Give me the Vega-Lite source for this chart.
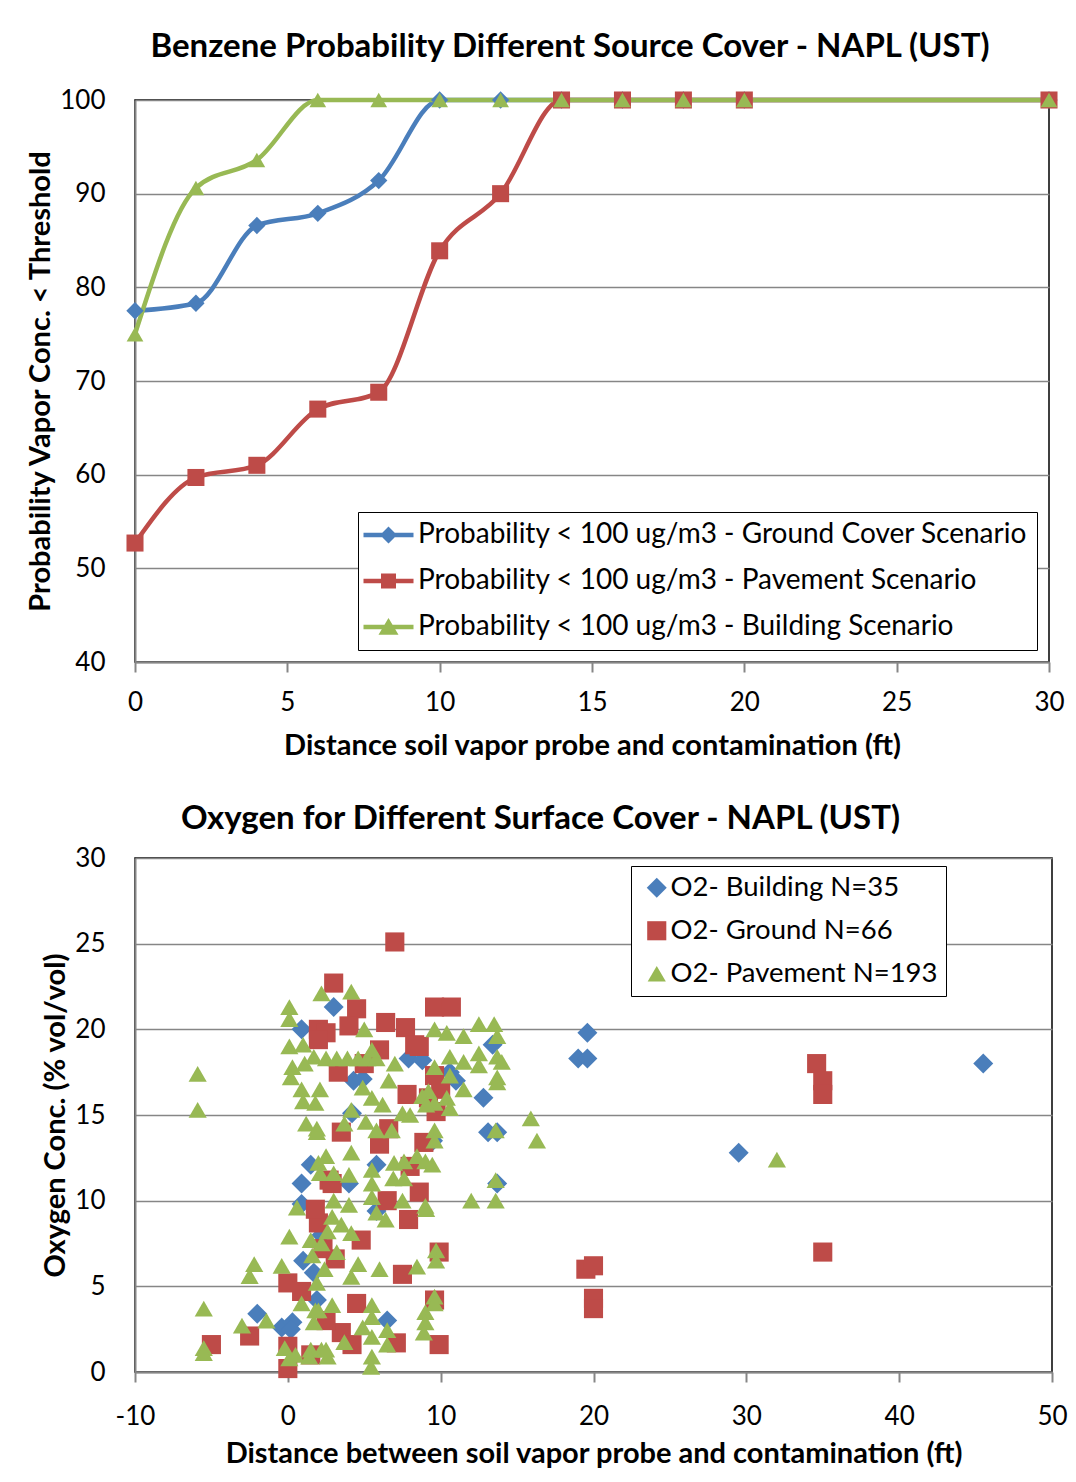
{
  "$schema": "https://vega.github.io/schema/vega-lite/v6.json",
  "background": "white",
  "padding": {"left": 26, "top": 30, "right": 8, "bottom": 10},
  "spacing": 41,
  "resolve": {"scale": {"color": "independent", "shape": "independent", "size": "independent"}, "legend": {"color": "independent", "shape": "independent"}},
  "config": {
    "font": "Lato",
    "view": {"stroke": "black", "strokeWidth": 1.5},
    "axis": {"labelFont": "Lato", "labelFontSize": 26, "labelColor": "black", "titleFont": "Lato", "titleFontSize": 29, "titleFontWeight": "bold", "titleColor": "black", "domainColor": "#868686", "domainWidth": 2, "tickColor": "#868686", "tickWidth": 2, "gridColor": "#868686", "gridWidth": 1.5},
    "axisY": {"ticks": false, "labelPadding": 30, "titlePadding": 4},
    "axisX": {"tickSize": 10, "labelPadding": 17, "titlePadding": 16, "grid": false, "labelFlush": false},
    "title": {"font": "Lato", "fontSize": 33, "fontWeight": "bold", "color": "black"},
    "legend": {"labelFont": "Lato", "labelColor": "black", "labelLimit": 800, "strokeColor": "black", "fillColor": "white", "symbolStrokeWidth": 0}
  },
  "datasets": {
    "prob": [
      {"x": 0, "p": 77.5, "s": "Probability < 100 ug/m3 - Ground Cover Scenario"},
      {"x": 2, "p": 78.3, "s": "Probability < 100 ug/m3 - Ground Cover Scenario"},
      {"x": 4, "p": 86.6, "s": "Probability < 100 ug/m3 - Ground Cover Scenario"},
      {"x": 6, "p": 87.9, "s": "Probability < 100 ug/m3 - Ground Cover Scenario"},
      {"x": 8, "p": 91.4, "s": "Probability < 100 ug/m3 - Ground Cover Scenario"},
      {"x": 10, "p": 100, "s": "Probability < 100 ug/m3 - Ground Cover Scenario"},
      {"x": 12, "p": 100, "s": "Probability < 100 ug/m3 - Ground Cover Scenario"},
      {"x": 14, "p": 100, "s": "Probability < 100 ug/m3 - Ground Cover Scenario"},
      {"x": 16, "p": 100, "s": "Probability < 100 ug/m3 - Ground Cover Scenario"},
      {"x": 18, "p": 100, "s": "Probability < 100 ug/m3 - Ground Cover Scenario"},
      {"x": 20, "p": 100, "s": "Probability < 100 ug/m3 - Ground Cover Scenario"},
      {"x": 30, "p": 100, "s": "Probability < 100 ug/m3 - Ground Cover Scenario"},
      {"x": 0, "p": 52.7, "s": "Probability < 100 ug/m3 - Pavement Scenario"},
      {"x": 2, "p": 59.7, "s": "Probability < 100 ug/m3 - Pavement Scenario"},
      {"x": 4, "p": 61.0, "s": "Probability < 100 ug/m3 - Pavement Scenario"},
      {"x": 6, "p": 67.0, "s": "Probability < 100 ug/m3 - Pavement Scenario"},
      {"x": 8, "p": 68.8, "s": "Probability < 100 ug/m3 - Pavement Scenario"},
      {"x": 10, "p": 83.9, "s": "Probability < 100 ug/m3 - Pavement Scenario"},
      {"x": 12, "p": 90.0, "s": "Probability < 100 ug/m3 - Pavement Scenario"},
      {"x": 14, "p": 100, "s": "Probability < 100 ug/m3 - Pavement Scenario"},
      {"x": 16, "p": 100, "s": "Probability < 100 ug/m3 - Pavement Scenario"},
      {"x": 18, "p": 100, "s": "Probability < 100 ug/m3 - Pavement Scenario"},
      {"x": 20, "p": 100, "s": "Probability < 100 ug/m3 - Pavement Scenario"},
      {"x": 30, "p": 100, "s": "Probability < 100 ug/m3 - Pavement Scenario"},
      {"x": 0, "p": 75.0, "s": "Probability < 100 ug/m3 - Building Scenario"},
      {"x": 2, "p": 90.6, "s": "Probability < 100 ug/m3 - Building Scenario"},
      {"x": 4, "p": 93.6, "s": "Probability < 100 ug/m3 - Building Scenario"},
      {"x": 6, "p": 100, "s": "Probability < 100 ug/m3 - Building Scenario"},
      {"x": 8, "p": 100, "s": "Probability < 100 ug/m3 - Building Scenario"},
      {"x": 10, "p": 100, "s": "Probability < 100 ug/m3 - Building Scenario"},
      {"x": 12, "p": 100, "s": "Probability < 100 ug/m3 - Building Scenario"},
      {"x": 14, "p": 100, "s": "Probability < 100 ug/m3 - Building Scenario"},
      {"x": 16, "p": 100, "s": "Probability < 100 ug/m3 - Building Scenario"},
      {"x": 18, "p": 100, "s": "Probability < 100 ug/m3 - Building Scenario"},
      {"x": 20, "p": 100, "s": "Probability < 100 ug/m3 - Building Scenario"},
      {"x": 30, "p": 100, "s": "Probability < 100 ug/m3 - Building Scenario"}
    ],
    "o2": [
      {"d": 0.9, "o": 20.0, "s": "O2- Building N=35"}, {"d": 3.0, "o": 21.3, "s": "O2- Building N=35"}, {"d": 0.9, "o": 11.0, "s": "O2- Building N=35"}, {"d": 1.5, "o": 12.1, "s": "O2- Building N=35"}, {"d": 0.9, "o": 9.8, "s": "O2- Building N=35"},
      {"d": -2.0, "o": 3.4, "s": "O2- Building N=35"}, {"d": -0.4, "o": 2.6, "s": "O2- Building N=35"}, {"d": 0.3, "o": 2.9, "s": "O2- Building N=35"}, {"d": 1.9, "o": 4.2, "s": "O2- Building N=35"}, {"d": 1.7, "o": 5.8, "s": "O2- Building N=35"},
      {"d": 4.3, "o": 17.0, "s": "O2- Building N=35"}, {"d": 4.9, "o": 17.1, "s": "O2- Building N=35"}, {"d": 7.9, "o": 18.3, "s": "O2- Building N=35"}, {"d": 8.8, "o": 18.2, "s": "O2- Building N=35"}, {"d": 10.6, "o": 17.5, "s": "O2- Building N=35"},
      {"d": 13.4, "o": 19.1, "s": "O2- Building N=35"}, {"d": 12.8, "o": 16.0, "s": "O2- Building N=35"}, {"d": 13.1, "o": 14.0, "s": "O2- Building N=35"}, {"d": 13.7, "o": 14.0, "s": "O2- Building N=35"}, {"d": 13.7, "o": 11.0, "s": "O2- Building N=35"},
      {"d": 4.2, "o": 15.1, "s": "O2- Building N=35"}, {"d": 5.8, "o": 12.1, "s": "O2- Building N=35"}, {"d": 5.8, "o": 9.4, "s": "O2- Building N=35"}, {"d": 19.0, "o": 18.3, "s": "O2- Building N=35"}, {"d": 19.6, "o": 18.3, "s": "O2- Building N=35"},
      {"d": 19.6, "o": 19.8, "s": "O2- Building N=35"}, {"d": 29.5, "o": 12.8, "s": "O2- Building N=35"}, {"d": 45.5, "o": 18.0, "s": "O2- Building N=35"}, {"d": 1.0, "o": 6.5, "s": "O2- Building N=35"}, {"d": 2.2, "o": 8.0, "s": "O2- Building N=35"},
      {"d": 4.0, "o": 11.0, "s": "O2- Building N=35"}, {"d": 9.5, "o": 13.5, "s": "O2- Building N=35"}, {"d": 6.5, "o": 3.0, "s": "O2- Building N=35"}, {"d": 0.2, "o": 2.5, "s": "O2- Building N=35"}, {"d": 11.0, "o": 17.0, "s": "O2- Building N=35"},
      {"d": 7.0, "o": 25.1, "s": "O2- Ground N=66"}, {"d": 3.0, "o": 22.7, "s": "O2- Ground N=66"}, {"d": 4.5, "o": 21.2, "s": "O2- Ground N=66"}, {"d": 9.6, "o": 21.3, "s": "O2- Ground N=66"}, {"d": 10.7, "o": 21.3, "s": "O2- Ground N=66"},
      {"d": 2.0, "o": 20.0, "s": "O2- Ground N=66"}, {"d": 2.5, "o": 19.8, "s": "O2- Ground N=66"}, {"d": 4.0, "o": 20.2, "s": "O2- Ground N=66"}, {"d": 6.4, "o": 20.4, "s": "O2- Ground N=66"}, {"d": 7.7, "o": 20.1, "s": "O2- Ground N=66"},
      {"d": 8.3, "o": 19.1, "s": "O2- Ground N=66"}, {"d": 2.0, "o": 19.4, "s": "O2- Ground N=66"}, {"d": 6.0, "o": 18.8, "s": "O2- Ground N=66"}, {"d": 9.6, "o": 17.3, "s": "O2- Ground N=66"}, {"d": 8.6, "o": 19.0, "s": "O2- Ground N=66"},
      {"d": 7.8, "o": 16.2, "s": "O2- Ground N=66"}, {"d": 9.7, "o": 15.2, "s": "O2- Ground N=66"}, {"d": 6.6, "o": 14.2, "s": "O2- Ground N=66"}, {"d": 6.0, "o": 13.3, "s": "O2- Ground N=66"}, {"d": 8.9, "o": 13.4, "s": "O2- Ground N=66"},
      {"d": 2.7, "o": 11.2, "s": "O2- Ground N=66"}, {"d": 8.6, "o": 10.5, "s": "O2- Ground N=66"}, {"d": 7.9, "o": 8.9, "s": "O2- Ground N=66"}, {"d": 2.0, "o": 8.7, "s": "O2- Ground N=66"}, {"d": 4.8, "o": 7.7, "s": "O2- Ground N=66"},
      {"d": 3.1, "o": 6.6, "s": "O2- Ground N=66"}, {"d": 2.3, "o": 7.2, "s": "O2- Ground N=66"}, {"d": 9.9, "o": 7.0, "s": "O2- Ground N=66"}, {"d": 7.5, "o": 5.7, "s": "O2- Ground N=66"}, {"d": 9.6, "o": 4.2, "s": "O2- Ground N=66"},
      {"d": 0.0, "o": 5.2, "s": "O2- Ground N=66"}, {"d": 0.9, "o": 4.7, "s": "O2- Ground N=66"}, {"d": 3.5, "o": 2.3, "s": "O2- Ground N=66"}, {"d": 4.2, "o": 1.6, "s": "O2- Ground N=66"}, {"d": 7.1, "o": 1.7, "s": "O2- Ground N=66"},
      {"d": 9.9, "o": 1.6, "s": "O2- Ground N=66"}, {"d": -2.5, "o": 2.1, "s": "O2- Ground N=66"}, {"d": -5.0, "o": 1.6, "s": "O2- Ground N=66"}, {"d": 0.0, "o": 1.5, "s": "O2- Ground N=66"}, {"d": 0.0, "o": 0.2, "s": "O2- Ground N=66"},
      {"d": 19.5, "o": 6.0, "s": "O2- Ground N=66"}, {"d": 20.0, "o": 6.2, "s": "O2- Ground N=66"}, {"d": 20.0, "o": 4.3, "s": "O2- Ground N=66"}, {"d": 20.0, "o": 3.7, "s": "O2- Ground N=66"}, {"d": 34.6, "o": 18.0, "s": "O2- Ground N=66"},
      {"d": 35.0, "o": 17.0, "s": "O2- Ground N=66"}, {"d": 35.0, "o": 16.2, "s": "O2- Ground N=66"}, {"d": 35.0, "o": 7.0, "s": "O2- Ground N=66"}, {"d": 2.9, "o": 11.0, "s": "O2- Ground N=66"}, {"d": 3.3, "o": 17.5, "s": "O2- Ground N=66"},
      {"d": 9.2, "o": 16.0, "s": "O2- Ground N=66"}, {"d": 5.0, "o": 18.0, "s": "O2- Ground N=66"}, {"d": 1.8, "o": 9.5, "s": "O2- Ground N=66"}, {"d": 3.5, "o": 14.0, "s": "O2- Ground N=66"}, {"d": 8.0, "o": 12.0, "s": "O2- Ground N=66"},
      {"d": 1.5, "o": 1.0, "s": "O2- Ground N=66"}, {"d": 6.5, "o": 10.0, "s": "O2- Ground N=66"}, {"d": 10.0, "o": 16.5, "s": "O2- Ground N=66"}, {"d": 4.5, "o": 4.0, "s": "O2- Ground N=66"}, {"d": 2.5, "o": 3.0, "s": "O2- Ground N=66"},
      {"d": -5.9, "o": 17.4, "s": "O2- Pavement N=193"}, {"d": -5.9, "o": 15.3, "s": "O2- Pavement N=193"}, {"d": -5.5, "o": 3.7, "s": "O2- Pavement N=193"}, {"d": -5.5, "o": 1.4, "s": "O2- Pavement N=193"}, {"d": -5.5, "o": 1.1, "s": "O2- Pavement N=193"},
      {"d": -3.0, "o": 2.7, "s": "O2- Pavement N=193"}, {"d": -2.5, "o": 5.6, "s": "O2- Pavement N=193"}, {"d": -2.2, "o": 6.3, "s": "O2- Pavement N=193"}, {"d": -1.4, "o": 3.0, "s": "O2- Pavement N=193"}, {"d": -0.4, "o": 6.2, "s": "O2- Pavement N=193"},
      {"d": 0.1, "o": 7.9, "s": "O2- Pavement N=193"}, {"d": -0.2, "o": 1.4, "s": "O2- Pavement N=193"}, {"d": 0.1, "o": 0.8, "s": "O2- Pavement N=193"}, {"d": 0.5, "o": 1.0, "s": "O2- Pavement N=193"}, {"d": 1.5, "o": 1.3, "s": "O2- Pavement N=193"},
      {"d": 2.2, "o": 1.3, "s": "O2- Pavement N=193"}, {"d": 1.4, "o": 0.9, "s": "O2- Pavement N=193"}, {"d": 2.6, "o": 0.9, "s": "O2- Pavement N=193"}, {"d": 0.9, "o": 4.0, "s": "O2- Pavement N=193"}, {"d": 1.8, "o": 3.6, "s": "O2- Pavement N=193"},
      {"d": 1.7, "o": 2.9, "s": "O2- Pavement N=193"}, {"d": 1.9, "o": 5.2, "s": "O2- Pavement N=193"}, {"d": 1.5, "o": 7.7, "s": "O2- Pavement N=193"}, {"d": 1.6, "o": 6.8, "s": "O2- Pavement N=193"}, {"d": 0.6, "o": 9.6, "s": "O2- Pavement N=193"},
      {"d": 2.0, "o": 12.2, "s": "O2- Pavement N=193"}, {"d": 2.1, "o": 11.6, "s": "O2- Pavement N=193"}, {"d": 0.1, "o": 21.3, "s": "O2- Pavement N=193"}, {"d": 0.1, "o": 20.6, "s": "O2- Pavement N=193"}, {"d": 0.1, "o": 19.0, "s": "O2- Pavement N=193"},
      {"d": 1.0, "o": 19.1, "s": "O2- Pavement N=193"}, {"d": 0.3, "o": 17.8, "s": "O2- Pavement N=193"}, {"d": 0.2, "o": 17.2, "s": "O2- Pavement N=193"}, {"d": 1.7, "o": 18.4, "s": "O2- Pavement N=193"}, {"d": 0.9, "o": 16.5, "s": "O2- Pavement N=193"},
      {"d": 1.8, "o": 15.7, "s": "O2- Pavement N=193"}, {"d": 1.2, "o": 14.5, "s": "O2- Pavement N=193"}, {"d": 1.9, "o": 14.2, "s": "O2- Pavement N=193"}, {"d": 2.2, "o": 22.1, "s": "O2- Pavement N=193"}, {"d": 1.1, "o": 18.0, "s": "O2- Pavement N=193"},
      {"d": 1.9, "o": 14.0, "s": "O2- Pavement N=193"}, {"d": 2.1, "o": 16.5, "s": "O2- Pavement N=193"}, {"d": 1.0, "o": 15.8, "s": "O2- Pavement N=193"}, {"d": 4.15, "o": 22.2, "s": "O2- Pavement N=193"}, {"d": 5.0, "o": 20.0, "s": "O2- Pavement N=193"},
      {"d": 2.5, "o": 18.3, "s": "O2- Pavement N=193"}, {"d": 3.2, "o": 18.3, "s": "O2- Pavement N=193"}, {"d": 3.9, "o": 18.3, "s": "O2- Pavement N=193"}, {"d": 4.6, "o": 18.3, "s": "O2- Pavement N=193"}, {"d": 5.2, "o": 18.3, "s": "O2- Pavement N=193"},
      {"d": 5.8, "o": 18.3, "s": "O2- Pavement N=193"}, {"d": 5.5, "o": 18.8, "s": "O2- Pavement N=193"}, {"d": 4.9, "o": 16.6, "s": "O2- Pavement N=193"}, {"d": 5.5, "o": 16.0, "s": "O2- Pavement N=193"}, {"d": 4.15, "o": 15.3, "s": "O2- Pavement N=193"},
      {"d": 3.7, "o": 14.5, "s": "O2- Pavement N=193"}, {"d": 5.1, "o": 14.6, "s": "O2- Pavement N=193"}, {"d": 5.8, "o": 14.1, "s": "O2- Pavement N=193"}, {"d": 2.5, "o": 12.6, "s": "O2- Pavement N=193"}, {"d": 4.15, "o": 12.8, "s": "O2- Pavement N=193"},
      {"d": 4.0, "o": 11.5, "s": "O2- Pavement N=193"}, {"d": 5.5, "o": 11.8, "s": "O2- Pavement N=193"}, {"d": 5.5, "o": 11.0, "s": "O2- Pavement N=193"}, {"d": 5.5, "o": 10.2, "s": "O2- Pavement N=193"}, {"d": 3.0, "o": 10.0, "s": "O2- Pavement N=193"},
      {"d": 4.0, "o": 9.75, "s": "O2- Pavement N=193"}, {"d": 5.8, "o": 9.3, "s": "O2- Pavement N=193"}, {"d": 2.9, "o": 9.05, "s": "O2- Pavement N=193"}, {"d": 2.6, "o": 8.2, "s": "O2- Pavement N=193"}, {"d": 4.15, "o": 8.1, "s": "O2- Pavement N=193"},
      {"d": 6.0, "o": 6.0, "s": "O2- Pavement N=193"}, {"d": 4.15, "o": 5.55, "s": "O2- Pavement N=193"}, {"d": 4.6, "o": 6.3, "s": "O2- Pavement N=193"}, {"d": 2.9, "o": 3.9, "s": "O2- Pavement N=193"}, {"d": 2.0, "o": 3.6, "s": "O2- Pavement N=193"},
      {"d": 5.5, "o": 3.9, "s": "O2- Pavement N=193"}, {"d": 5.5, "o": 3.2, "s": "O2- Pavement N=193"}, {"d": 4.9, "o": 2.6, "s": "O2- Pavement N=193"}, {"d": 6.5, "o": 2.45, "s": "O2- Pavement N=193"}, {"d": 3.7, "o": 1.75, "s": "O2- Pavement N=193"},
      {"d": 2.5, "o": 1.3, "s": "O2- Pavement N=193"}, {"d": 5.5, "o": 0.9, "s": "O2- Pavement N=193"}, {"d": 5.5, "o": 2.05, "s": "O2- Pavement N=193"}, {"d": 5.45, "o": 0.3, "s": "O2- Pavement N=193"}, {"d": 3.2, "o": 7.0, "s": "O2- Pavement N=193"},
      {"d": 3.5, "o": 8.6, "s": "O2- Pavement N=193"}, {"d": 2.2, "o": 7.5, "s": "O2- Pavement N=193"}, {"d": 2.4, "o": 6.0, "s": "O2- Pavement N=193"}, {"d": 3.0, "o": 11.6, "s": "O2- Pavement N=193"}, {"d": 6.8, "o": 14.1, "s": "O2- Pavement N=193"},
      {"d": 7.5, "o": 15.1, "s": "O2- Pavement N=193"}, {"d": 6.95, "o": 12.2, "s": "O2- Pavement N=193"}, {"d": 7.6, "o": 12.3, "s": "O2- Pavement N=193"}, {"d": 8.45, "o": 12.6, "s": "O2- Pavement N=193"}, {"d": 9.0, "o": 12.3, "s": "O2- Pavement N=193"},
      {"d": 6.9, "o": 11.3, "s": "O2- Pavement N=193"}, {"d": 7.6, "o": 11.3, "s": "O2- Pavement N=193"}, {"d": 7.5, "o": 10.0, "s": "O2- Pavement N=193"}, {"d": 9.0, "o": 9.7, "s": "O2- Pavement N=193"}, {"d": 6.4, "o": 8.9, "s": "O2- Pavement N=193"},
      {"d": 9.7, "o": 7.1, "s": "O2- Pavement N=193"}, {"d": 9.7, "o": 6.5, "s": "O2- Pavement N=193"}, {"d": 8.45, "o": 6.15, "s": "O2- Pavement N=193"}, {"d": 9.0, "o": 3.5, "s": "O2- Pavement N=193"}, {"d": 9.6, "o": 4.4, "s": "O2- Pavement N=193"},
      {"d": 9.0, "o": 2.9, "s": "O2- Pavement N=193"}, {"d": 8.9, "o": 2.3, "s": "O2- Pavement N=193"}, {"d": 6.5, "o": 1.6, "s": "O2- Pavement N=193"}, {"d": 9.6, "o": 4.0, "s": "O2- Pavement N=193"}, {"d": 9.6, "o": 20.0, "s": "O2- Pavement N=193"},
      {"d": 10.4, "o": 19.8, "s": "O2- Pavement N=193"}, {"d": 9.6, "o": 17.8, "s": "O2- Pavement N=193"}, {"d": 10.6, "o": 18.4, "s": "O2- Pavement N=193"}, {"d": 10.6, "o": 17.3, "s": "O2- Pavement N=193"}, {"d": 8.8, "o": 16.1, "s": "O2- Pavement N=193"},
      {"d": 9.2, "o": 16.4, "s": "O2- Pavement N=193"}, {"d": 9.6, "o": 15.7, "s": "O2- Pavement N=193"}, {"d": 10.4, "o": 16.0, "s": "O2- Pavement N=193"}, {"d": 10.6, "o": 15.4, "s": "O2- Pavement N=193"}, {"d": 9.05, "o": 15.6, "s": "O2- Pavement N=193"},
      {"d": 9.6, "o": 14.1, "s": "O2- Pavement N=193"}, {"d": 9.6, "o": 13.5, "s": "O2- Pavement N=193"}, {"d": 9.45, "o": 12.1, "s": "O2- Pavement N=193"}, {"d": 9.05, "o": 9.5, "s": "O2- Pavement N=193"}, {"d": 7.0, "o": 18.0, "s": "O2- Pavement N=193"},
      {"d": 8.0, "o": 15.0, "s": "O2- Pavement N=193"}, {"d": 6.2, "o": 15.6, "s": "O2- Pavement N=193"}, {"d": 6.6, "o": 17.0, "s": "O2- Pavement N=193"}, {"d": 11.5, "o": 19.6, "s": "O2- Pavement N=193"}, {"d": 12.5, "o": 20.3, "s": "O2- Pavement N=193"},
      {"d": 13.5, "o": 20.3, "s": "O2- Pavement N=193"}, {"d": 13.7, "o": 19.6, "s": "O2- Pavement N=193"}, {"d": 11.5, "o": 18.1, "s": "O2- Pavement N=193"}, {"d": 12.5, "o": 18.6, "s": "O2- Pavement N=193"}, {"d": 12.5, "o": 17.9, "s": "O2- Pavement N=193"},
      {"d": 13.7, "o": 18.4, "s": "O2- Pavement N=193"}, {"d": 14.0, "o": 18.1, "s": "O2- Pavement N=193"}, {"d": 13.7, "o": 17.2, "s": "O2- Pavement N=193"}, {"d": 11.5, "o": 16.5, "s": "O2- Pavement N=193"}, {"d": 13.7, "o": 16.9, "s": "O2- Pavement N=193"},
      {"d": 15.9, "o": 14.8, "s": "O2- Pavement N=193"}, {"d": 16.3, "o": 13.5, "s": "O2- Pavement N=193"}, {"d": 13.6, "o": 14.1, "s": "O2- Pavement N=193"}, {"d": 12.0, "o": 10.0, "s": "O2- Pavement N=193"}, {"d": 13.6, "o": 10.0, "s": "O2- Pavement N=193"},
      {"d": 13.6, "o": 11.2, "s": "O2- Pavement N=193"}, {"d": 32.0, "o": 12.4, "s": "O2- Pavement N=193"}
    ]
  },
  "vconcat": [
    {
      "width": 914,
      "height": 562,
      "title": {"text": "Benzene Probability Different Source Cover - NAPL (UST)", "anchor": "middle", "offset": 23, "dx": -22},
      "resolve": {"scale": {"color": "independent", "shape": "independent", "size": "independent"}},
      "layer": [
        {
          "data": {"name": "prob"},
          "mark": {"type": "line", "interpolate": "monotone", "strokeWidth": 4.5},
          "encoding": {
            "x": {"field": "x", "type": "quantitative", "scale": {"domain": [0, 30], "nice": false}, "axis": {"values": [0, 5, 10, 15, 20, 25, 30], "title": "Distance soil vapor probe and contamination (ft)"}},
            "y": {"field": "p", "type": "quantitative", "scale": {"domain": [40, 100], "nice": false}, "axis": {"values": [40, 50, 60, 70, 80, 90, 100], "grid": true, "title": "Probability Vapor Conc. < Threshold"}},
            "color": {"field": "s", "type": "nominal", "scale": {"domain": ["Probability < 100 ug/m3 - Ground Cover Scenario", "Probability < 100 ug/m3 - Pavement Scenario", "Probability < 100 ug/m3 - Building Scenario"], "range": ["#4A7EBB", "#BE4B48", "#98B954"]}, "legend": null}
          }
        },
        {
          "data": {"name": "prob"},
          "mark": {"type": "point", "filled": true, "opacity": 1},
          "encoding": {
            "x": {"field": "x", "type": "quantitative"},
            "y": {"field": "p", "type": "quantitative"},
            "color": {"field": "s", "type": "nominal", "scale": {"domain": ["Probability < 100 ug/m3 - Ground Cover Scenario", "Probability < 100 ug/m3 - Pavement Scenario", "Probability < 100 ug/m3 - Building Scenario"], "range": ["#4A7EBB", "#BE4B48", "#98B954"]}, "legend": null},
            "shape": {"field": "s", "type": "nominal", "scale": {"domain": ["Probability < 100 ug/m3 - Ground Cover Scenario", "Probability < 100 ug/m3 - Pavement Scenario", "Probability < 100 ug/m3 - Building Scenario"], "range": ["diamond", "square", "triangle-up"]}, "legend": null},
            "size": {"field": "s", "type": "nominal", "scale": {"domain": ["Probability < 100 ug/m3 - Ground Cover Scenario", "Probability < 100 ug/m3 - Pavement Scenario", "Probability < 100 ug/m3 - Building Scenario"], "range": [300, 280, 400]}, "legend": null}
          }
        },
        {
          "data": {"name": "prob"},
          "transform": [{"filter": "datum.x > 1000"}],
          "mark": {"type": "point", "filled": true, "opacity": 1},
          "encoding": {
            "x": {"field": "x", "type": "quantitative"},
            "y": {"field": "p", "type": "quantitative"},
            "color": {"field": "s", "type": "nominal", "scale": {"domain": ["Probability < 100 ug/m3 - Ground Cover Scenario", "Probability < 100 ug/m3 - Pavement Scenario", "Probability < 100 ug/m3 - Building Scenario"], "range": ["#4A7EBB", "#BE4B48", "#98B954"]},
              "legend": {"orient": "none", "legendX": 223, "legendY": 412, "title": null, "labelFontSize": 28, "symbolSize": 625, "padding": 9, "rowPadding": 18, "labelOffset": 23}},
            "shape": {"field": "s", "type": "nominal", "scale": {"domain": ["Probability < 100 ug/m3 - Ground Cover Scenario", "Probability < 100 ug/m3 - Pavement Scenario", "Probability < 100 ug/m3 - Building Scenario"], "range": ["M-1.4,-0.18H2.6V0.18H-1.4Z M0.6,-0.68L1.28,0L0.6,0.68L-0.08,0Z", "M-1.4,-0.18H2.6V0.18H-1.4Z M0,-0.6H1.2V0.6H0Z", "M-1.4,-0.18H2.6V0.18H-1.4Z M0.6,-0.72L1.4,0.62H-0.2Z"]},
              "legend": {"orient": "none", "legendX": 223, "legendY": 412, "title": null, "labelFontSize": 28, "symbolSize": 625, "padding": 9, "rowPadding": 18, "labelOffset": 23}}
          }
        }
      ]
    },
    {
      "width": 917,
      "height": 514,
      "title": {"text": "Oxygen for Different Surface Cover - NAPL (UST)", "anchor": "middle", "offset": 9, "dx": -53},
      "data": {"name": "o2"},
      "mark": {"type": "point", "filled": true, "opacity": 1},
      "encoding": {
        "x": {"field": "d", "type": "quantitative", "scale": {"domain": [-10, 50], "nice": false}, "axis": {"values": [-10, 0, 10, 20, 30, 40, 50], "labelExpr": "'' + datum.value", "title": "Distance between soil vapor probe and contamination (ft)", "labelPadding": 21, "titlePadding": 10}},
        "y": {"field": "o", "type": "quantitative", "scale": {"domain": [0, 30], "nice": false}, "axis": {"values": [0, 5, 10, 15, 20, 25, 30], "grid": true, "title": "Oxygen Conc. (% vol/vol)"}},
        "color": {"field": "s", "type": "nominal", "scale": {"domain": ["O2- Building N=35", "O2- Ground N=66", "O2- Pavement N=193"], "range": ["#4A7EBB", "#BE4B48", "#98B954"]},
          "legend": {"orient": "none", "legendX": 496, "legendY": 8, "title": null, "labelFontSize": 27.5, "symbolSize": 400, "padding": 8, "rowPadding": 14, "labelOffset": 0, "symbolOffset": 4}},
        "shape": {"field": "s", "type": "nominal", "scale": {"domain": ["O2- Building N=35", "O2- Ground N=66", "O2- Pavement N=193"], "range": ["diamond", "square", "triangle-up"]},
          "legend": {"orient": "none", "legendX": 496, "legendY": 8, "title": null, "labelFontSize": 27.5, "symbolSize": 400, "padding": 8, "rowPadding": 14, "labelOffset": 0, "symbolOffset": 4}},
        "size": {"field": "s", "type": "nominal", "scale": {"domain": ["O2- Building N=35", "O2- Ground N=66", "O2- Pavement N=193"], "range": [400, 330, 400]}, "legend": null}
      }
    }
  ]
}
